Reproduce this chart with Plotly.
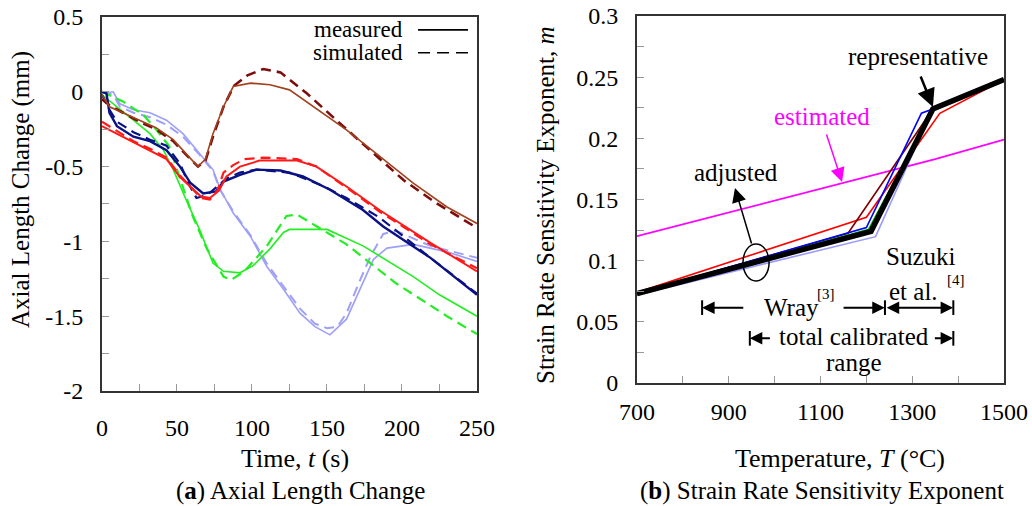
import plotly.graph_objects as go

FONT = "Liberation Serif"

# ---------------- Panel (a): Axial length change ----------------
brown_meas_t = [0, 5, 14, 25, 36, 47.5, 56, 64, 69, 74, 81, 87.5, 99, 112, 125, 141, 163, 185, 207.5, 230, 250]
brown_meas_v = [-0.02, -0.1, -0.14, -0.19, -0.24, -0.32, -0.41, -0.5, -0.45, -0.28, -0.1, 0.035, 0.058, 0.047, 0.013, -0.098, -0.254, -0.43, -0.61, -0.77, -0.88]
brown_sim_t = [0, 5, 14, 25, 36, 47.5, 56, 64, 69, 74, 81, 88, 97, 107.5, 119, 136.5, 156, 179, 201, 223, 250]
brown_sim_v = [-0.05, -0.09, -0.14, -0.2, -0.25, -0.33, -0.42, -0.5, -0.46, -0.3, -0.1, 0.04, 0.11, 0.152, 0.13, -0.01, -0.187, -0.39, -0.59, -0.745, -0.91]

red_meas_t = [0, 10, 21, 32, 43, 52, 61, 66, 72, 78, 83, 92, 105, 130, 143, 163, 185, 219, 250]
red_meas_v = [-0.23, -0.28, -0.34, -0.39, -0.45, -0.57, -0.655, -0.7, -0.71, -0.66, -0.566, -0.5, -0.46, -0.46, -0.5, -0.633, -0.79, -1.01, -1.2]
red_sim_t = [0, 10, 21, 32, 43, 52, 61, 66, 72, 77, 81, 87.5, 95, 107.5, 130, 143, 163, 185, 219, 250]
red_sim_v = [-0.2, -0.26, -0.33, -0.38, -0.44, -0.56, -0.66, -0.71, -0.72, -0.66, -0.54, -0.49, -0.45, -0.44, -0.45, -0.5, -0.64, -0.8, -1.02, -1.18]

navy_meas_t = [0, 3, 5, 10, 21, 32, 43, 52, 59, 67.5, 76, 81, 92, 103, 119, 134, 152, 174, 187.5, 219, 250]
navy_meas_v = [0, -0.01, -0.14, -0.23, -0.3, -0.33, -0.39, -0.5, -0.61, -0.68, -0.666, -0.6, -0.555, -0.52, -0.526, -0.566, -0.655, -0.79, -0.9, -1.11, -1.357]
navy_sim_t = [0, 5, 10, 21, 32, 43, 52, 58, 63, 70, 76, 83, 92, 103, 125, 147.5, 163, 185, 219, 250]
navy_sim_v = [-0.02, -0.12, -0.2, -0.27, -0.32, -0.36, -0.48, -0.62, -0.71, -0.69, -0.64, -0.58, -0.54, -0.52, -0.54, -0.63, -0.71, -0.84, -1.11, -1.35]

green_meas_t = [0, 12, 21, 32, 41, 47.5, 53, 56, 65, 74, 81, 92, 101, 112, 121, 125, 150, 174, 207.5, 225, 250]
green_meas_v = [-0.02, -0.12, -0.19, -0.28, -0.39, -0.52, -0.655, -0.72, -0.92, -1.145, -1.2, -1.21, -1.16, -1.05, -0.94, -0.92, -0.92, -1.03, -1.235, -1.357, -1.5]
green_sim_t = [0, 14, 27.5, 36, 45, 53, 60, 70, 81, 86, 95, 110, 123, 130, 163, 196, 230, 250]
green_sim_v = [0, -0.065, -0.154, -0.25, -0.366, -0.6, -0.82, -1.05, -1.235, -1.257, -1.2, -1.03, -0.83, -0.82, -1.02, -1.28, -1.5, -1.62]

lblue_meas_t = [0, 7.5, 12, 21, 32, 43, 54, 65, 74, 79, 87.5, 99, 110, 121, 132, 142, 152, 163, 172, 181, 190, 207.5, 230, 250]
lblue_meas_v = [-0.01, 0, -0.08, -0.12, -0.14, -0.19, -0.28, -0.41, -0.52, -0.655, -0.81, -0.967, -1.17, -1.32, -1.48, -1.57, -1.625, -1.52, -1.32, -1.12, -1.045, -1.02, -1.07, -1.134]
lblue_sim_t = [0, 7.5, 12, 21, 32, 43, 54, 65, 74, 79, 87.5, 99, 110, 121, 132, 142, 150, 157, 163, 172, 179, 187.5, 196, 219, 239, 250]
lblue_sim_v = [0, -0.02, -0.1, -0.14, -0.17, -0.22, -0.3, -0.42, -0.53, -0.66, -0.8, -0.96, -1.15, -1.3, -1.45, -1.55, -1.58, -1.57, -1.48, -1.26, -1.1, -0.95, -0.93, -1.03, -1.08, -1.11]

a_xticks = [0, 50, 100, 150, 200, 250]
a_yticks = [0.5, 0, -0.5, -1, -1.5, -2]
a_yticktext = ["0.5", "0", "-0.5", "-1", "-1.5", "-2"]

# ---------------- Panel (b): strain rate sensitivity ----------------
mag_T = [700, 1350, 1500]
mag_m = [0.12, 0.183, 0.199]
red_T = [700, 1200, 1360, 1500]
red_m = [0.074, 0.1355, 0.2205, 0.248]
brn_T = [700, 1160, 1345, 1500]
brn_m = [0.073, 0.1224, 0.224, 0.248]
blu_T = [700, 1200, 1320, 1345, 1500]
blu_m = [0.073, 0.127, 0.2205, 0.224, 0.248]
grn_T = [700, 1205, 1345, 1500]
grn_m = [0.073, 0.1257, 0.224, 0.248]
lbl_T = [700, 1220, 1345, 1500]
lbl_m = [0.072, 0.1196, 0.224, 0.248]
blk_T = [700, 1210, 1345, 1500]
blk_m = [0.073, 0.124, 0.224, 0.248]

b_xticks = [700, 900, 1100, 1300, 1500]
b_yticks = [0, 0.05, 0.1, 0.15, 0.2, 0.25, 0.3]
b_yticktext = ["0", "0.05", "0.1", "0.15", "0.2", "0.25", "0.3"]

DASH = "10px,6px"

fig = go.Figure()

def add_a(t, v, color, width, dash=None):
    fig.add_trace(go.Scatter(x=t, y=v, mode="lines", xaxis="x", yaxis="y",
                             line=dict(color=color, width=width, dash=dash),
                             showlegend=False, hoverinfo="skip"))

add_a(lblue_sim_t, lblue_sim_v, "#9fa0f5", 2, DASH)
add_a(lblue_meas_t, lblue_meas_v, "#9fa0f5", 1.6)
add_a(green_sim_t, green_sim_v, "#22ee22", 2.2, DASH)
add_a(green_meas_t, green_meas_v, "#22ee22", 1.6)
add_a(navy_sim_t, navy_sim_v, "#0a1185", 2.2, DASH)
add_a(navy_meas_t, navy_meas_v, "#0a1185", 2.4)
add_a(red_sim_t, red_sim_v, "#ff1a1a", 2.2, DASH)
add_a(red_meas_t, red_meas_v, "#ff1a1a", 2)
add_a(brown_sim_t, brown_sim_v, "#7d0c0c", 2.6, DASH)
add_a(brown_meas_t, brown_meas_v, "#a0421e", 1.6)

def add_b(T, m, color, width):
    fig.add_trace(go.Scatter(x=T, y=m, mode="lines", xaxis="x2", yaxis="y2",
                             line=dict(color=color, width=width),
                             showlegend=False, hoverinfo="skip"))

add_b(mag_T, mag_m, "#ff00ff", 1.6)
add_b(red_T, red_m, "#ff0000", 1.6)
add_b(brn_T, brn_m, "#800000", 1.6)
add_b(blu_T, blu_m, "#0000ff", 1.6)
add_b(grn_T, grn_m, "#00cc00", 1.6)
add_b(lbl_T, lbl_m, "#9999ff", 1.6)
add_b(blk_T, blk_m, "#000000", 5.5)

tickfont = dict(family=FONT, size=24, color="black")
common = dict(showline=True, mirror=True, linecolor="#333333", linewidth=2,
              showgrid=False, zeroline=False, ticks="inside", ticklen=7,
              tickcolor="#999999", tickwidth=1, tickfont=tickfont, automargin=False)

fig.update_layout(
    width=1032, height=506,
    margin=dict(l=0, r=0, t=0, b=0, autoexpand=False),
    paper_bgcolor="white", plot_bgcolor="white",
    font=dict(family=FONT, color="black"),
    xaxis=dict(domain=[0.0988, 0.4622], range=[0, 250], tickmode="array",
               tickvals=a_xticks, ticklabelstandoff=14,
               minor=dict(tickmode="linear", tick0=0, dtick=25, ticks="inside",
                          ticklen=7, tickcolor="#999999"),
               anchor="y", **common),
    yaxis=dict(domain=[0.2273, 0.9664], range=[-2, 0.5], tickmode="array",
               tickvals=a_yticks, ticktext=a_yticktext, ticklabelstandoff=12,
               minor=dict(tickmode="linear", tick0=0, dtick=0.25, ticks="inside",
                          ticklen=7, tickcolor="#999999"),
               anchor="x", **common),
    xaxis2=dict(domain=[0.6172, 0.9729], range=[700, 1500], tickmode="array",
                tickvals=b_xticks, ticklabelstandoff=6,
                minor=dict(tickmode="linear", tick0=700, dtick=100, ticks="inside",
                           ticklen=7, tickcolor="#999999"),
                anchor="y2", **common),
    yaxis2=dict(domain=[0.2431, 0.9684], range=[0, 0.3], tickmode="array",
                tickvals=b_yticks, ticktext=b_yticktext, ticklabelstandoff=12,
                minor=dict(tickmode="linear", tick0=0, dtick=0.025, ticks="inside",
                           ticklen=7, tickcolor="#999999"),
                anchor="x2", **common),
)

ann = []
def text(x, y, s, size=25, xref="paper", yref="paper", color="black", xanchor="center", angle=0):
    ann.append(dict(x=x, y=y, xref=xref, yref=yref, text=s, showarrow=False,
                    xanchor=xanchor, yanchor="middle", textangle=angle,
                    font=dict(family=FONT, size=size, color=color)))

# axis titles & captions (paper coords from pixel positions)
W, H = 1032.0, 506.0
text(295 / W, 1 - 458 / H, "Time, <i>t</i> (s)", size=26)
text(840 / W, 1 - 458 / H, "Temperature, <i>T</i> (°C)", size=26)
text(300 / W, 1 - 491 / H, "(<b>a</b>) Axial Length Change")
text(822 / W, 1 - 491 / H, "(<b>b</b>) Strain Rate Sensitivity Exponent")
text(21 / W, 1 - 190 / H, "Axial Length Change (mm)", angle=-90)
text(545 / W, 1 - 205 / H, "Strain Rate Sensitivity Exponent, <i>m</i>", angle=-90)

# legend of panel (a)
text(202, 0.414, "measured", size=23, xref="x", yref="y", xanchor="right")
text(202, 0.261, "simulated", size=23, xref="x", yref="y", xanchor="right")

shapes = [
    dict(type="line", xref="x", yref="y", x0=210.7, x1=244, y0=0.414, y1=0.414,
         line=dict(color="black", width=1.6)),
    dict(type="line", xref="x", yref="y", x0=210.7, x1=244, y0=0.261, y1=0.261,
         line=dict(color="black", width=1.6, dash="12px,7px")),
]

# panel (b) labels
text(1312.5, 0.2666, "representative", xref="x2", yref="y2")
text(1103, 0.2175, "estimated", xref="x2", yref="y2", color="#ff00ff")
text(916, 0.1717, "adjusted", xref="x2", yref="y2")
text(1319, 0.103, "Suzuki", xref="x2", yref="y2")
text(1302, 0.0744, "et al.", xref="x2", yref="y2")
text(1396, 0.084, "[4]", size=15, xref="x2", yref="y2")
text(1036, 0.0613, "Wray", xref="x2", yref="y2")
text(1112, 0.073, "[3]", size=15, xref="x2", yref="y2")
text(1173, 0.0376, "total calibrated", xref="x2", yref="y2")
text(1173, 0.0164, "range", xref="x2", yref="y2")

def arrow(x, y, ax, ay, color="black", width=2, size=1.25, side="end"):
    ann.append(dict(x=x, y=y, ax=ax, ay=ay, xref="x2", yref="y2", axref="x2", ayref="y2",
                    text="", showarrow=True, arrowhead=2, arrowsize=size, arrowwidth=width,
                    arrowcolor=color, arrowside=side, standoff=0, startstandoff=0))

arrow(1345, 0.2257, 1317, 0.2518, width=2.5, size=1.45)
arrow(1147, 0.1643, 1112, 0.2044, color="#ff00ff", width=1.5, size=1.9)
arrow(913.6, 0.1594, 950.7, 0.1128, width=1.5, size=1.9)
# Wray range
arrow(842, 0.0616, 935, 0.0616)
arrow(1240, 0.0616, 1147, 0.0616)
arrow(1389, 0.0616, 1241, 0.0616, side="end+start")
# total calibrated range
arrow(946, 0.0365, 993, 0.0365)
arrow(1389, 0.0365, 1346, 0.0365)

for bx, by in [(842, 0.0616), (1240.5, 0.0616), (1389.5, 0.0616), (946, 0.0365), (1389.5, 0.0365)]:
    shapes.append(dict(type="line", xref="x2", yref="y2", x0=bx, x1=bx, y0=by - 0.006, y1=by + 0.006,
                       line=dict(color="black", width=2)))

shapes.append(dict(type="circle", xref="x2", yref="y2", x0=931, x1=988, y0=0.0834, y1=0.1136,
                   line=dict(color="black", width=1.5)))

fig.update_layout(annotations=ann, shapes=shapes)
fig.write_html("out.html")
